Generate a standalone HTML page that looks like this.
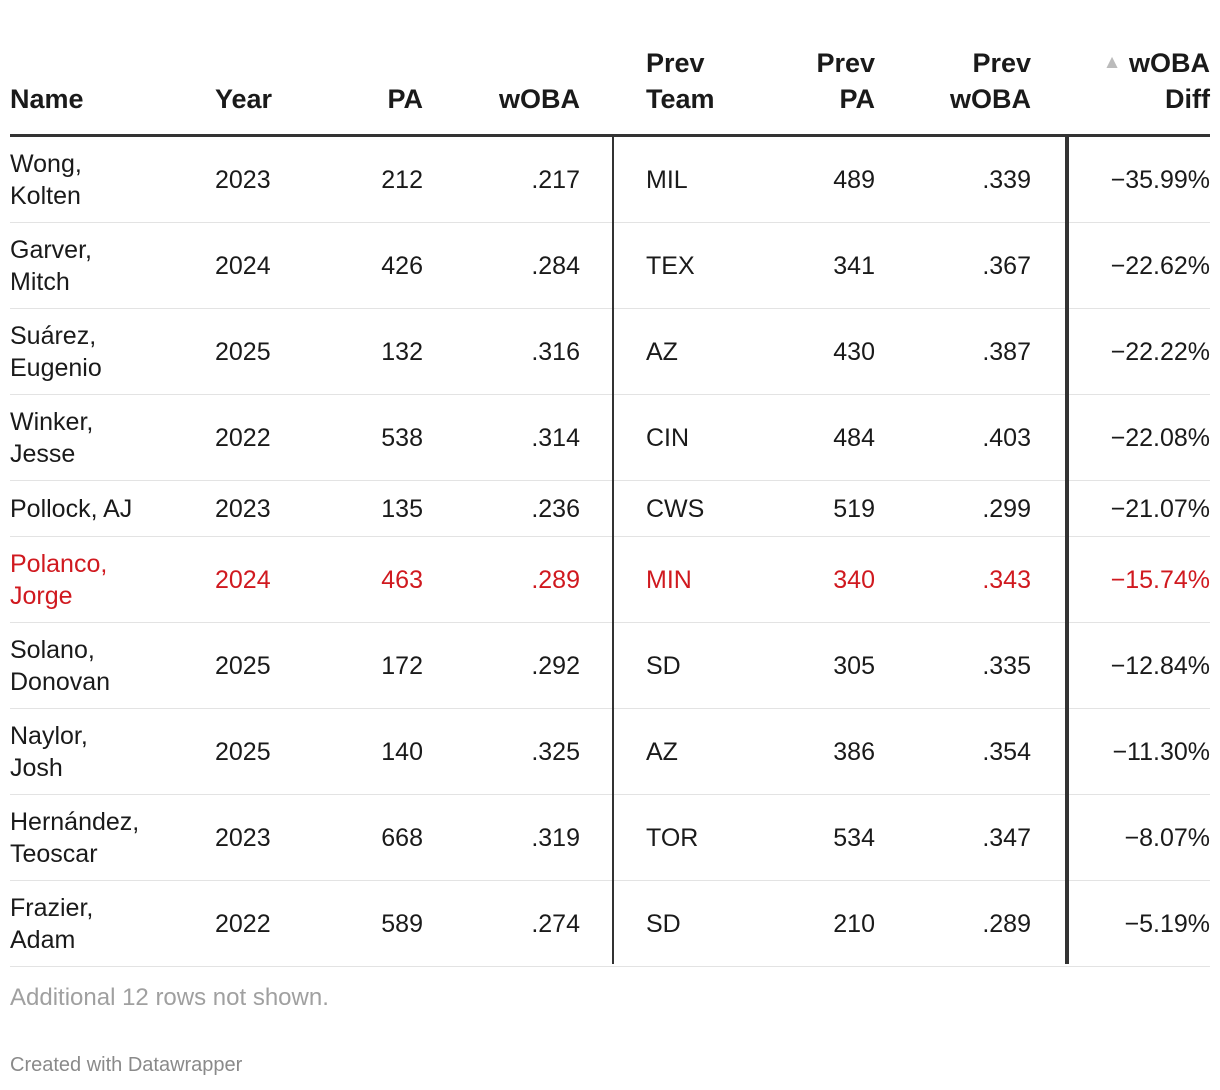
<!DOCTYPE html>
<html><head><meta charset="utf-8"><style>
body{margin:0;width:1220px;height:1090px;background:#fff;font-family:"Liberation Sans",Arial,sans-serif;color:#1a1a1a;position:relative;overflow:hidden}
.h{position:absolute;font-weight:bold;font-size:27px;line-height:36px;top:45px;height:72px;display:flex;align-items:flex-end;color:#1a1a1a}
.row{position:absolute;left:10px;width:1200px;border-bottom:1px solid #e3e3e3}
.c{position:absolute;top:0;bottom:0;display:flex;align-items:center;font-size:25px;line-height:32px}
.r{justify-content:flex-end;text-align:right}
.red{color:#d0191f}
</style></head><body>
<div class="h" style="left:10px">Name</div>
<div class="h" style="left:215px">Year</div>
<div class="h" style="left:300px;width:123px;justify-content:flex-end">PA</div>
<div class="h" style="left:440px;width:140px;justify-content:flex-end">wOBA</div>
<div class="h" style="left:646px">Prev<br>Team</div>
<div class="h" style="left:740px;width:135px;justify-content:flex-end;text-align:right">Prev<br>PA</div>
<div class="h" style="left:890px;width:141px;justify-content:flex-end;text-align:right">Prev<br>wOBA</div>
<div class="h" style="left:1070px;width:140px;justify-content:flex-end;text-align:right"><span><span style="color:#bbb;font-size:19px;vertical-align:4px">▲</span> wOBA<br>Diff</span></div>
<div style="position:absolute;left:10px;width:1200px;top:134px;height:3px;background:#333"></div>
<div id="tbl"></div>
<div style="position:absolute;left:612px;top:137px;width:2px;height:827px;background:#333"></div>
<div style="position:absolute;left:1065px;top:137px;width:4px;height:827px;background:#333"></div>
<div style="position:absolute;left:10px;top:984px;font-size:24px;color:#a0a0a0">Additional 12 rows not shown.</div>
<div style="position:absolute;left:10px;top:1054px;font-size:20px;color:#8a8a8a">Created with Datawrapper</div>
<script>
const names=["Wong,<br>Kolten","Garver,<br>Mitch","Suárez,<br>Eugenio","Winker,<br>Jesse","Pollock, AJ","Polanco,<br>Jorge","Solano,<br>Donovan","Naylor,<br>Josh","Hernández,<br>Teoscar","Frazier,<br>Adam"];
const years=["2023","2024","2025","2022","2023","2024","2025","2025","2023","2022"];
const pas=["212","426","132","538","135","463","172","140","668","589"];
const wobas=[".217",".284",".316",".314",".236",".289",".292",".325",".319",".274"];
const teams=["MIL","TEX","AZ","CIN","CWS","MIN","SD","AZ","TOR","SD"];
const prevPas=["489","341","430","484","519","340","305","386","534","210"];
const prevWobas=[".339",".367",".387",".403",".299",".343",".335",".354",".347",".289"];
const diffs=["−35.99%","−22.62%","−22.22%","−22.08%","−21.07%","−15.74%","−12.84%","−11.30%","−8.07%","−5.19%"];
const cols=[["name",0,200,false],["year",205,100,false],["pa",290,123,true],["woba",430,140,true],["prev-team",636,150,false],["prev-pa",730,135,true],["prev-woba",880,141,true],["woba-diff",1060,140,true]];
const tbl=document.getElementById('tbl');
let yPos=137;
for(let i=0;i<names.length;i++){
  const h=names[i].includes('<br>')?86:56;
  const row=document.createElement('div');
  row.className='row';
  row.style.top=yPos+'px';row.style.height=(h-1)+'px';
  
  
  const vals=[names[i],years[i],pas[i],wobas[i],teams[i],prevPas[i],prevWobas[i],diffs[i]];
  cols.forEach((c,j)=>{
    const d=document.createElement('div');
    d.className='c'+(c[3]?' r':'')+(i===5?' red':'');
    d.style.left=c[1]+'px';d.style.width=c[2]+'px';
    d.innerHTML='<span>'+vals[j]+'</span>';
    
    
    row.appendChild(d);
  });
  tbl.appendChild(row);
  yPos+=h;
}
</script>
</body></html>
